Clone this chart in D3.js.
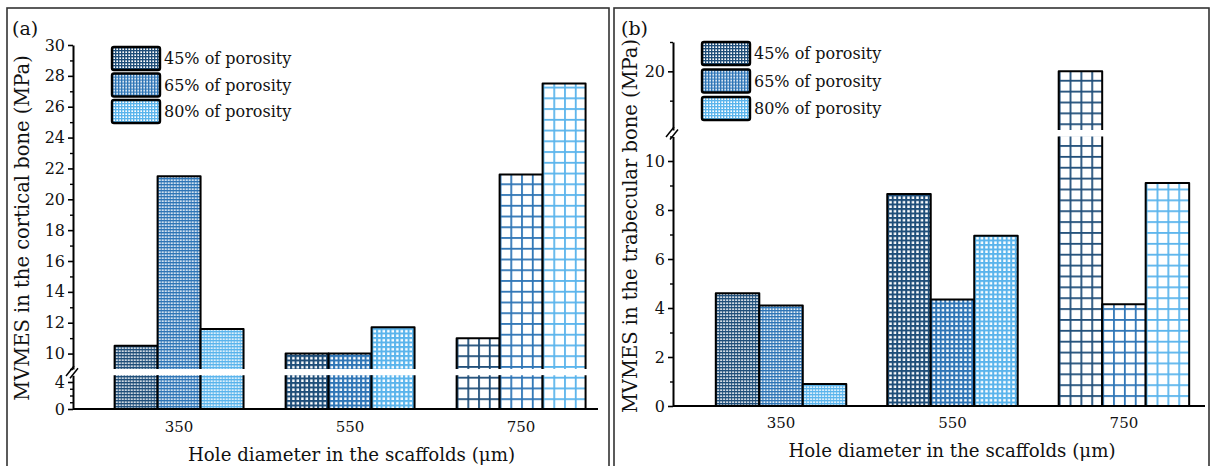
<!DOCTYPE html>
<html><head><meta charset="utf-8">
<script src="https://cdn.jsdelivr.net/npm/d3@7"></script>
<style>
html,body{margin:0;padding:0;background:#fff;}
svg{display:block;}
text{font-family:"DejaVu Serif",serif;fill:#111;}
</style></head>
<body>
<svg id="chart" width="1213" height="466"></svg>
<script>
// ---------------- data ----------------
const holeDiameters = ["350", "550", "750"];
const porosities = ["45% of porosity", "65% of porosity", "80% of porosity"];
const cortical45 = [10.5, 10.0, 11.0];
const cortical65 = [21.5, 10.0, 21.6];
const cortical80 = [11.6, 11.7, 27.5];
const trabecular45 = [4.6, 8.65, 20.0];
const trabecular65 = [4.1, 4.35, 4.15];
const trabecular80 = [0.9, 6.95, 9.1];
const corticalLowTicks = [0, 4];
const corticalLowMinor = [1, 2, 3];
const corticalHighTicks = [10, 12, 14, 16, 18, 20, 22, 24, 26, 28, 30];
const corticalHighMinor = [9, 11, 13, 15, 17, 19, 21, 23, 25, 27, 29];
const trabLowTicks = [0, 2, 4, 6, 8, 10];
const trabLowMinor = [1, 3, 5, 7, 9, 11];
const trabHighTicks = [20];
const trabHighMinor = [17.5, 22.5];

const seriesColors = ["#1f4e79", "#2e75b6", "#5ab4ec"];
// pattern style per hole diameter: [period, line width]
const patternStyles = [[3, 1.35], [4.5, 2], [null, 1.8]];

const svg = d3.select("#chart");
const defs = svg.append("defs");

// frames
svg.append("rect").attr("x", 7).attr("y", 8).attr("width", 602).attr("height", 470)
  .attr("fill", "none").attr("stroke", "#333").attr("stroke-width", 1.6);
svg.append("rect").attr("x", 614).attr("y", 8).attr("width", 595).attr("height", 470)
  .attr("fill", "none").attr("stroke", "#333").attr("stroke-width", 1.6);

function makePattern(id, x0, y0, period, lw, color) {
  const p = defs.append("pattern").attr("id", id).attr("patternUnits", "userSpaceOnUse")
    .attr("x", x0).attr("y", y0).attr("width", period).attr("height", period);
  p.append("rect").attr("width", period).attr("height", period).attr("fill", "#fff");
  p.append("rect").attr("x", 0).attr("y", 0).attr("width", lw).attr("height", period).attr("fill", color);
  p.append("rect").attr("x", 0).attr("y", 0).attr("width", period).attr("height", lw).attr("fill", color);
  return "url(#" + id + ")";
}

function drawPanel(cfg) {
  const g = svg.append("g");
  const x = d3.scaleBand().domain(holeDiameters).range([cfg.axisX, cfg.xEnd])
    .paddingInner(cfg.pi).paddingOuter(cfg.po).align(cfg.align);
  const xs = d3.scaleBand().domain(porosities).range([0, x.bandwidth()]);
  const yLo = d3.scaleLinear().domain(cfg.loDomain).range(cfg.loRange);
  const yHi = d3.scaleLinear().domain(cfg.hiDomain).range(cfg.hiRange);

  const bars = [];
  holeDiameters.forEach((h, gi) => {
    porosities.forEach((s, si) => {
      bars.push({h, gi, s, si, v: cfg.series[si][gi]});
    });
  });

  bars.forEach(b => {
    const bx = x(b.h) + xs(b.s), bw = xs.bandwidth();
    const st = patternStyles[b.gi];
    const period = st[0] === null ? bw / 4 : st[0];
    const base = yLo(0);
    const fill = makePattern(cfg.id + "-p" + b.gi + b.si, bx, base, period, st[1], seriesColors[b.si]);
    if (b.v <= cfg.loDomain[1]) {
      const top = yLo(b.v);
      g.append("rect").attr("x", bx).attr("y", top).attr("width", bw).attr("height", base - top)
        .attr("fill", fill).attr("stroke", "#000").attr("stroke-width", 2).attr("stroke-linejoin", "round");
    } else {
      const t1 = yLo(cfg.loDomain[1]);
      const b2 = yHi(cfg.hiDomain[0]), t2 = yHi(b.v);
      g.append("rect").attr("x", bx).attr("y", t1).attr("width", bw).attr("height", base - t1).attr("fill", fill);
      g.append("rect").attr("x", bx).attr("y", t2).attr("width", bw).attr("height", b2 - t2).attr("fill", fill);
      g.append("path").attr("d", `M${bx},${t1}V${base}H${bx + bw}V${t1}`)
        .attr("fill", "none").attr("stroke", "#000").attr("stroke-width", 2).attr("stroke-linejoin", "round");
      g.append("path").attr("d", `M${bx},${b2}V${t2}H${bx + bw}V${b2}`)
        .attr("fill", "none").attr("stroke", "#000").attr("stroke-width", 2).attr("stroke-linejoin", "round");
    }
  });

  // baseline
  g.append("line").attr("x1", cfg.axisX).attr("x2", cfg.xEnd).attr("y1", yLo(0)).attr("y2", yLo(0))
    .attr("stroke", "#000").attr("stroke-width", 2);

  // x axis labels
  const xa = g.append("g").attr("transform", `translate(0,${yLo(0)})`)
    .call(d3.axisBottom(x).tickSize(0).tickPadding(cfg.xPad));
  xa.select(".domain").remove();
  xa.selectAll("text").attr("font-size", 15).attr("font-family", "DejaVu Serif").attr("fill", "#111");

  // y axes
  function yAxis(scale, ticks, minor) {
    const a = g.append("g").attr("transform", `translate(${cfg.axisX},0)`)
      .call(d3.axisLeft(scale).tickValues(ticks).tickSize(5).tickSizeOuter(0).tickPadding(3).tickFormat(d3.format("d")));
    a.select(".domain").attr("stroke-width", 2);
    a.selectAll(".tick line").attr("stroke-width", 1.6);
    a.selectAll("text").attr("font-size", 16).attr("font-family", "DejaVu Serif").attr("fill", "#111");
    const m = g.append("g").attr("transform", `translate(${cfg.axisX},0)`)
      .call(d3.axisLeft(scale).tickValues(minor).tickSize(3).tickSizeOuter(0).tickFormat(""));
    m.select(".domain").remove();
    m.selectAll(".tick line").attr("stroke-width", 1.4);
  }
  yAxis(yLo, cfg.loTicks, cfg.loMinor);
  yAxis(yHi, cfg.hiTicks, cfg.hiMinor);

  // break mark
  const ym = (yLo(cfg.loDomain[1]) + yHi(cfg.hiDomain[0])) / 2;
  [-2, 2].forEach(dx => {
    g.append("line").attr("x1", cfg.axisX - 5 + dx).attr("y1", ym + 5 + dx * 0.6)
      .attr("x2", cfg.axisX + 3 + dx).attr("y2", ym - 5 + dx * 0.6)
      .attr("stroke", "#000").attr("stroke-width", 1.5);
  });

  // titles
  g.append("text").attr("x", (cfg.axisX + cfg.xEnd) / 2 + cfg.titleDx).attr("y", cfg.xTitleY)
    .attr("text-anchor", "middle").attr("font-size", 18.2).text("Hole diameter in the scaffolds (\u03bcm)");
  g.append("text").attr("transform", `translate(${cfg.yTitleX},${cfg.yTitleY}) rotate(-90)`)
    .attr("text-anchor", "middle").attr("font-size", 19.5).text(cfg.yTitle);
  g.append("text").attr("x", cfg.labelX).attr("y", 35).attr("font-size", 19).text(cfg.label);

  // legend
  porosities.forEach((s, si) => {
    const ly = cfg.legY + si * cfg.legStep;
    const fill = makePattern(cfg.id + "-leg" + si, cfg.legX, ly, patternStyles[0][0], patternStyles[0][1], seriesColors[si]);
    g.append("rect").attr("x", cfg.legX).attr("y", ly).attr("width", 48).attr("height", 23)
      .attr("rx", 2).attr("fill", fill).attr("stroke", "#000").attr("stroke-width", 2.4);
    g.append("text").attr("x", cfg.legX + 52).attr("y", ly + 17).attr("font-size", 16).text(s);
  });
}

drawPanel({
  id: "a", label: "(a)", labelX: 12,
  axisX: 73, xEnd: 598, pi: 0.246, po: 0.158, align: 0.77,
  loDomain: [0, 5], loRange: [409, 375.25],
  hiDomain: [9, 30], hiRange: [369, 45],
  loTicks: corticalLowTicks, loMinor: corticalLowMinor,
  hiTicks: corticalHighTicks, hiMinor: corticalHighMinor,
  series: [cortical45, cortical65, cortical80],
  xPad: 12, xTitleY: 461, titleDx: 16,
  yTitle: "MVMES in the cortical bone (MPa)", yTitleX: 29, yTitleY: 228,
  legX: 112, legY: 47, legStep: 26.5
});

drawPanel({
  id: "b", label: "(b)", labelX: 621,
  axisX: 673, xEnd: 1205, pi: 0.239, po: 0.171, align: 0.73,
  loDomain: [0, 11], loRange: [406, 136.5],
  hiDomain: [15, 22.5], hiRange: [130, 42],
  loTicks: trabLowTicks, loMinor: trabLowMinor,
  hiTicks: trabHighTicks, hiMinor: trabHighMinor,
  series: [trabecular45, trabecular65, trabecular80],
  xPad: 11, xTitleY: 457, titleDx: 13,
  yTitle: "MVMES in the trabecular bone (MPa)", yTitleX: 637, yTitleY: 226,
  legX: 702, legY: 42, legStep: 27.5
});
</script>
</body></html>
